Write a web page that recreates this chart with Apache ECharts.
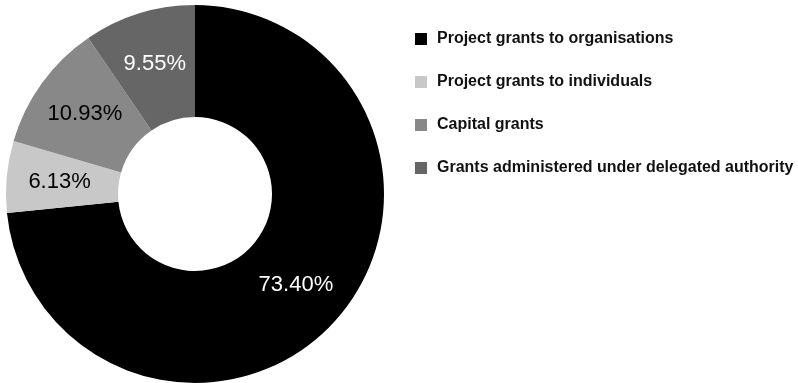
<!DOCTYPE html>
<html>
<head>
<meta charset="utf-8">
<script src="https://cdn.jsdelivr.net/npm/echarts@6/dist/echarts.min.js"></script>
<style>
  html, body { margin: 0; padding: 0; background: #fff; }
  #chart { width: 798px; height: 383px; }
</style>
</head>
<body>
<div id="chart"></div>
<script>
// Grant spending split by type (percent of total)
const categories = [
  'Project grants to organisations',
  'Project grants to individuals',
  'Capital grants',
  'Grants administered under delegated authority'
];
const shares = [73.40, 6.13, 10.93, 9.55];
const sliceColors = ['#000000', '#c8c8c8', '#888888', '#666666'];
const labelColors = ['#ffffff', '#000000', '#000000', '#ffffff'];

const chart = echarts.init(document.getElementById('chart'), null, { renderer: 'canvas' });

chart.setOption({
  animation: false,
  legend: {
    orient: 'vertical',
    left: 410,
    top: 26,
    itemWidth: 12,
    itemHeight: 12,
    itemGap: 27,
    icon: 'rect',
    textStyle: {
      fontFamily: 'Liberation Sans, Arial, sans-serif',
      fontWeight: 'bold',
      fontSize: 16,
      lineHeight: 16,
      color: '#111',
      padding: [0, 0, 0, 5]
    },
    data: categories
  },
  series: [{
    type: 'pie',
    center: [195, 194],
    radius: [77, 189],
    startAngle: 90,
    clockwise: true,
    silent: true,
    itemStyle: { borderWidth: 0 },
    label: {
      show: true,
      position: 'inside',
      fontFamily: 'Liberation Sans, Arial, sans-serif',
      fontSize: 22,
      formatter: p => p.value.toFixed(2) + '%'
    },
    labelLine: { show: false },
    data: categories.map((name, i) => ({
      name,
      value: shares[i],
      itemStyle: { color: sliceColors[i] },
      label: { color: labelColors[i] }
    }))
  }]
});
</script>
</body>
</html>
